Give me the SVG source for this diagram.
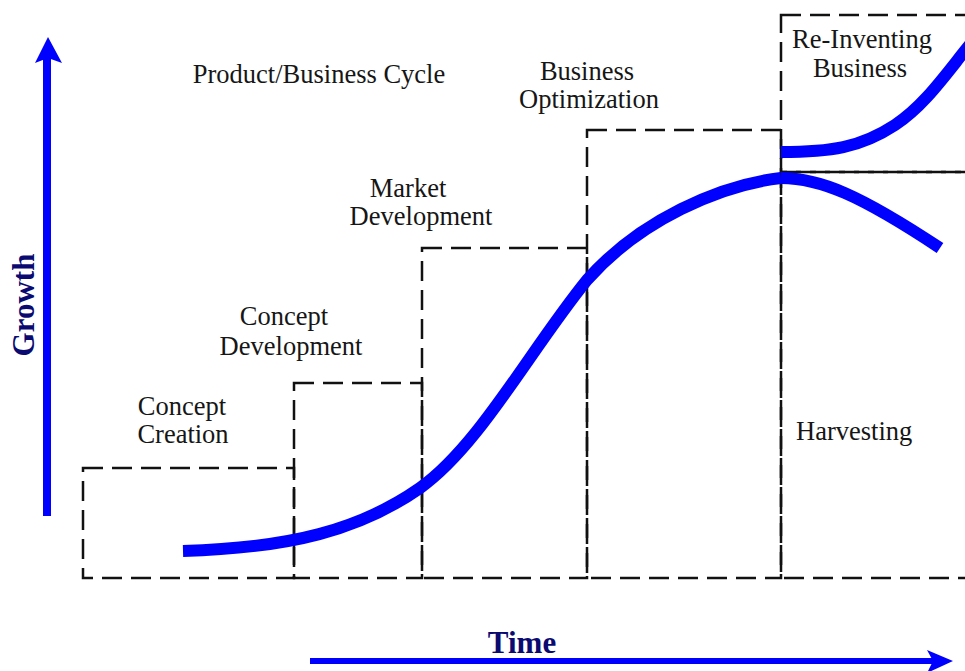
<svg xmlns="http://www.w3.org/2000/svg" width="965" height="671" viewBox="0 0 965 671">
<style>
.box{fill:none;stroke:#111;stroke-width:2.5;stroke-dasharray:20 9}
.lbl{font-family:"Liberation Serif","Times New Roman",serif;font-size:26.5px;fill:#161616;text-anchor:middle}
.axl{font-family:"Liberation Serif","Times New Roman",serif;font-size:31px;font-weight:bold;fill:#0a0a70;text-anchor:middle}
.curve{fill:none;stroke:#0000ff;stroke-width:12}
.axis{stroke:#0000ff;fill:none}
</style>
<rect width="965" height="671" fill="#fff"/>
<g id="title"><text class="lbl" x="319" y="83">Product/Business Cycle</text></g>
<g id="concept-creation">
<rect class="box" x="83" y="468" width="211" height="110"/>
<text class="lbl" x="182" y="415">Concept</text>
<text class="lbl" x="183" y="443">Creation</text>
</g>
<g id="concept-development">
<rect class="box" x="294" y="383" width="128" height="195"/>
<text class="lbl" x="284" y="325">Concept</text>
<text class="lbl" x="291" y="355">Development</text>
</g>
<g id="market-development">
<rect class="box" x="422" y="248" width="165" height="330"/>
<text class="lbl" x="408" y="197">Market</text>
<text class="lbl" x="421" y="225">Development</text>
</g>
<g id="business-optimization">
<rect class="box" x="587" y="130" width="194" height="448"/>
<text class="lbl" x="587" y="80">Business</text>
<text class="lbl" x="589" y="108">Optimization</text>
</g>
<g id="re-inventing-business">
<rect class="box" x="781" y="15" width="200" height="157"/>
<text class="lbl" x="862" y="48">Re-Inventing</text>
<text class="lbl" x="860" y="77">Business</text>
</g>
<g id="harvesting">
<rect class="box" x="781" y="172" width="200" height="406"/>
<text class="lbl" x="796" y="440" style="text-anchor:start">Harvesting</text>
</g>
<g id="curves">
<path class="curve" d="M183,551 C290,548 360,530 420,488 C480,445 530,350 587,280 C640,220 720,185 781,178"/>
<path class="curve" d="M781,178 C820,178 860,195 940,248"/>
<path class="curve" d="M781,152 C830,152 860,148 895,125 C925,105 945,75 972,42"/>
</g>
<g id="connectors">
<line class="axis" x1="47" y1="516" x2="47" y2="58" stroke-width="8"/>
<polygon points="48,37 62,63 48,58 35,63" fill="#0000ff"/>
<line class="axis" x1="310" y1="661" x2="935" y2="661" stroke-width="6"/>
<polygon points="953,661 927,650 933,661 927,673" fill="#0000ff"/>
</g>
<g id="axis-labels">
<text class="axl" transform="translate(34,305) rotate(-90)">Growth</text>
<text class="axl" x="522" y="653">Time</text>
</g>
</svg>
